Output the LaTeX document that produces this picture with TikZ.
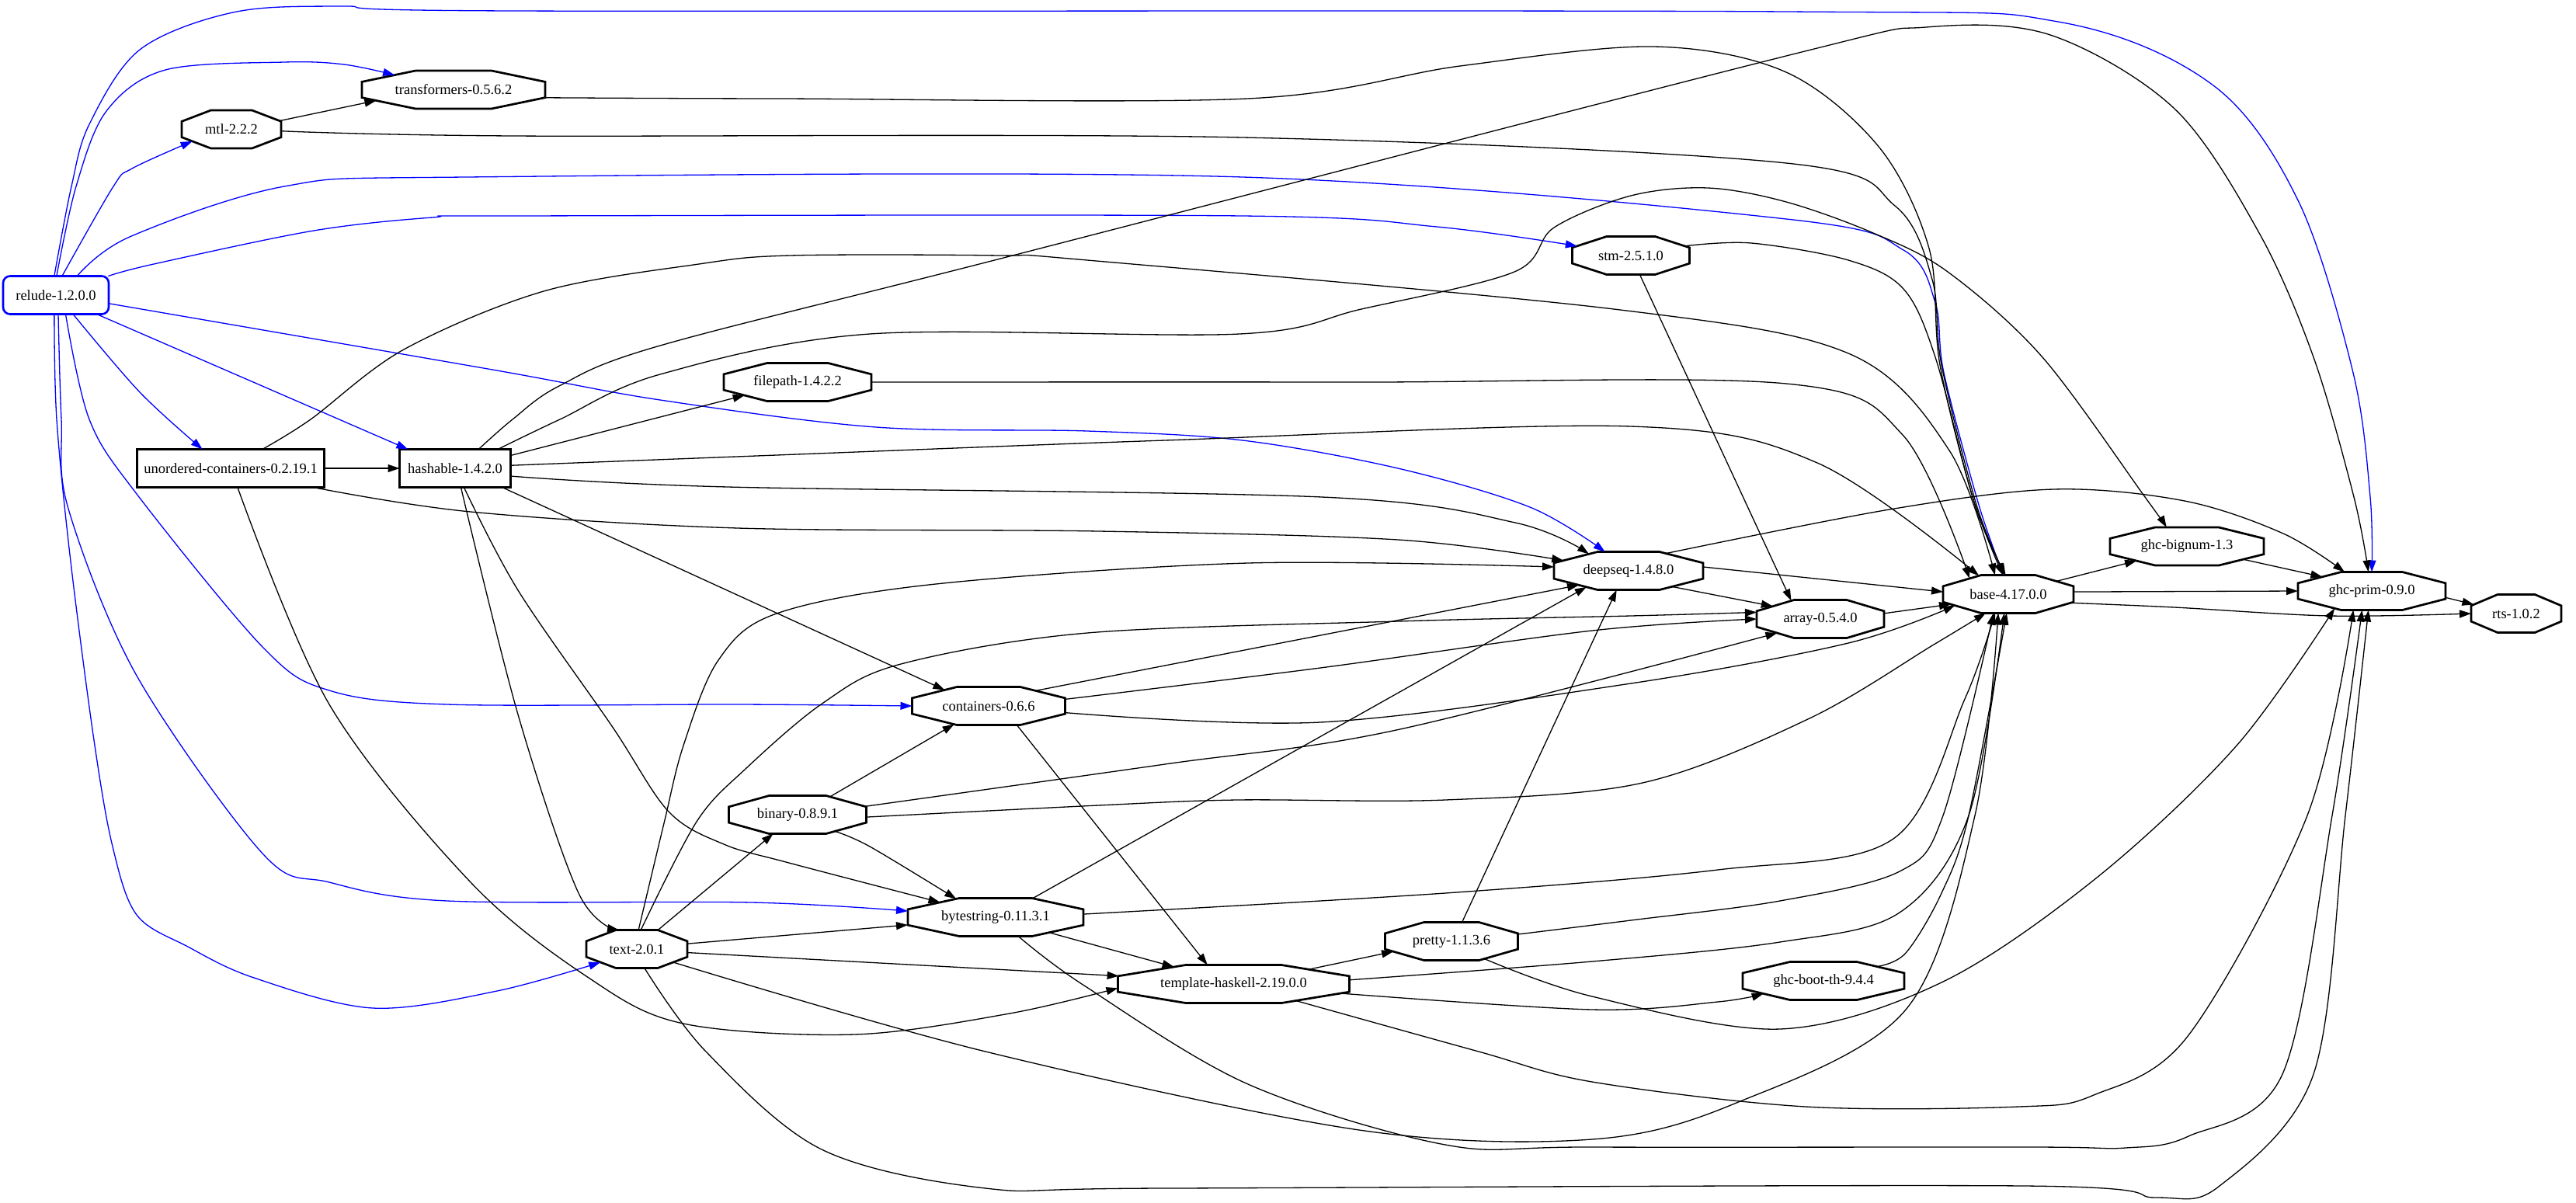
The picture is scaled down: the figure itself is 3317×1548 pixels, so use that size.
\documentclass[tikz,border=0pt]{standalone}
\usepackage{fontspec}
\setmainfont{Liberation Serif}
\usetikzlibrary{arrows.meta}
\makeatletter
\pgfdeclareshape{octbox}{%
  \inheritsavedanchors[from=rectangle]%
  \inheritanchor[from=rectangle]{center}%
  \inheritanchor[from=rectangle]{north}%
  \inheritanchor[from=rectangle]{south}%
  \inheritanchor[from=rectangle]{east}%
  \inheritanchor[from=rectangle]{west}%
  \inheritanchor[from=rectangle]{mid}%
  \inheritanchor[from=rectangle]{base}%
  \inheritanchor[from=rectangle]{text}%
  \backgroundpath{%
    \pgf@process{\southwest}%
    \edef\oct@xa{\the\pgf@x}\edef\oct@ya{\the\pgf@y}%
    \pgf@process{\northeast}%
    \edef\oct@xb{\the\pgf@x}\edef\oct@yb{\the\pgf@y}%
    \pgf@xc=\oct@xb\relax\advance\pgf@xc by-\oct@xa\relax
    \pgf@xc=0.29289\pgf@xc
    \pgf@yc=\oct@yb\relax\advance\pgf@yc by-\oct@ya\relax
    \pgf@yc=0.29289\pgf@yc
    \edef\oct@cx{\the\pgf@xc}\edef\oct@cy{\the\pgf@yc}%
    \pgfpathmoveto{\pgfqpoint{\oct@xa}{\dimexpr\oct@ya+\oct@cy\relax}}%
    \pgfpathlineto{\pgfqpoint{\dimexpr\oct@xa+\oct@cx\relax}{\oct@ya}}%
    \pgfpathlineto{\pgfqpoint{\dimexpr\oct@xb-\oct@cx\relax}{\oct@ya}}%
    \pgfpathlineto{\pgfqpoint{\oct@xb}{\dimexpr\oct@ya+\oct@cy\relax}}%
    \pgfpathlineto{\pgfqpoint{\oct@xb}{\dimexpr\oct@yb-\oct@cy\relax}}%
    \pgfpathlineto{\pgfqpoint{\dimexpr\oct@xb-\oct@cx\relax}{\oct@yb}}%
    \pgfpathlineto{\pgfqpoint{\dimexpr\oct@xa+\oct@cx\relax}{\oct@yb}}%
    \pgfpathlineto{\pgfqpoint{\oct@xa}{\dimexpr\oct@yb-\oct@cy\relax}}%
    \pgfpathclose
  }%
  \anchorborder{%
    \edef\oct@dx{\the\pgf@x}\edef\oct@dy{\the\pgf@y}%
    \pgf@process{\southwest}%
    \edef\oct@xa{\the\pgf@x}\edef\oct@ya{\the\pgf@y}%
    \pgf@process{\northeast}%
    \edef\oct@xb{\the\pgf@x}\edef\oct@yb{\the\pgf@y}%
    \pgfmathsetmacro\oct@a{((\oct@xb)-(\oct@xa))/2}%
    \pgfmathsetmacro\oct@b{((\oct@yb)-(\oct@ya))/2}%
    \pgfmathsetmacro\oct@mx{((\oct@xb)+(\oct@xa))/2}%
    \pgfmathsetmacro\oct@my{((\oct@yb)+(\oct@ya))/2}%
    \pgfmathsetmacro\oct@u{abs(\oct@dx)*100/\oct@a}%
    \pgfmathsetmacro\oct@v{abs(\oct@dy)*100/\oct@b}%
    \pgfmathsetmacro\oct@t{100/max(\oct@u,\oct@v,(\oct@u+\oct@v)/1.41421)}%
    \pgfmathsetlength\pgf@x{\oct@mx+\oct@t*(\oct@dx)}%
    \pgfmathsetlength\pgf@y{\oct@my+\oct@t*(\oct@dy)}%
  }%
}
\makeatother
\tikzset{
  oct/.style={shape=octbox, draw=black, line width=2.7pt, minimum height=49pt, inner sep=0pt, outer sep=0pt},
  rbox/.style={shape=rectangle, draw=black, line width=2.7pt, minimum height=49pt, inner sep=0pt, outer sep=0pt},
  edg/.style={draw=black, line width=1.3pt, -{Triangle[length=15pt,width=10pt]}},
  bedg/.style={draw=blue, line width=1.3pt, -{Triangle[length=15pt,width=10pt]}},
  sm/.style={smooth, tension=0.55}
}
\begin{document}
\begin{tikzpicture}[x=1pt, y=-1pt, font=\fontsize{18.5pt}{22pt}\selectfont]
\useasboundingbox (0,0) rectangle (3317,1548);
\fill[white] (0,0) rectangle (3317,1548);
% nodes
\node[shape=rectangle, draw=blue, line width=2.6pt, rounded corners=9pt, minimum width=136pt, minimum height=49pt, inner sep=0pt, outer sep=0pt] (Relude) at (72,380) {relude-1.2.0.0};
\node[oct, minimum width=236pt] (Trans) at (584,115.5) {transformers-0.5.6.2};
\node[oct, minimum width=128pt] (Mtl) at (298,166.5) {mtl-2.2.2};
\node[oct, minimum width=151pt] (Stm) at (2100,329) {stm-2.5.1.0};
\node[oct, minimum width=190pt] (Filepath) at (1027,492) {filepath-1.4.2.2};
\node[rbox, minimum width=241pt] (UC) at (297,603) {unordered-containers-0.2.19.1};
\node[rbox, minimum width=143pt] (Hashable) at (586,603) {hashable-1.4.2.0};
\node[oct, minimum width=192pt] (Deepseq) at (2097,735) {deepseq-1.4.8.0};
\node[oct, minimum width=164pt] (Array) at (2344,797) {array-0.5.4.0};
\node[oct, minimum width=168pt] (Base) at (2586,765) {base-4.17.0.0};
\node[oct, minimum width=198pt] (Bignum) at (2816,703.5) {ghc-bignum-1.3};
\node[oct, minimum width=190pt] (Prim) at (3054,761) {ghc-prim-0.9.0};
\node[oct, minimum width=116pt] (Rts) at (3240,790) {rts-1.0.2};
\node[oct, minimum width=197pt] (Containers) at (1273,909) {containers-0.6.6};
\node[oct, minimum width=177pt] (Binary) at (1027,1049) {binary-0.8.9.1};
\node[oct, minimum width=226pt] (Bytestring) at (1282,1181) {bytestring-0.11.3.1};
\node[oct, minimum width=130pt] (Text) at (820,1222) {text-2.0.1};
\node[oct, minimum width=171pt] (Pretty) at (1869,1212) {pretty-1.1.3.6};
\node[oct, minimum width=298pt] (TH) at (1588.5,1267) {template-haskell-2.19.0.0};
\node[oct, minimum width=208pt] (BootTH) at (2348,1263) {ghc-boot-th-9.4.4};
% blue edges from relude
\draw[bedg] plot[sm] coordinates {(Relude.95) (92,240) (115,160) (180,64) (300,16) (440,8) (660,14) (2300,15) (2650,28) (2850,110) (2960,260) (3030,480) (3052,640) (Prim.90)};
\draw[bedg] plot[sm] coordinates {(Relude.88) (98,240) (137,143) (213,90) (366,80) (443,83) (Trans.166)};
\draw[bedg] plot[sm] coordinates {(Relude.72) (146,240) (170,217) (Mtl.197)};
\draw[bedg] plot[sm] coordinates {(Relude.42) (167,305) (366,240) (600,228) (1600,228) (2300,282) (2451,322) (2492,390) (2503,480) (2548,650) (Base.104)};
\draw[bedg] plot[sm] coordinates {(Relude.20) (198,340) (404,297) (557,280) (660,278) (1600,278) (1850,292) (Stm.170)};
\draw[bedg] plot[sm] coordinates {(Relude.-9) (634,476) (850,515) (1128,550) (1400,555) (1600,567) (1800,603) (1970,653) (Deepseq.141)};
\draw[bedg] (Relude.-25) -- (Hashable.158);
\draw[bedg] plot[sm] coordinates {(Relude.-48) (180,505) (UC.146)};
\draw[bedg] plot[sm] coordinates {(Relude.-63) (115,540) (176,636) (339,834) (424,889) (576,907) (950,907) (Containers.180)};
\draw[bedg] plot[sm] coordinates {(Relude.-83) (79,540) (88,655) (176,870) (339,1100) (424,1136) (576,1160) (968,1162) (Bytestring.176)};
\draw[bedg] plot[sm] coordinates {(Relude.-95) (73,540) (91,723) (121,953) (145,1090) (176,1178) (242,1219) (327,1259) (480,1298) (640,1276) (Text.200)};
% black edges
\draw[edg] (Mtl.10) -- (Trans.188);
\draw[edg] plot[sm] coordinates {(Mtl.-2) (660,175) (1600,177) (2300,210) (2440,265) (2488,360) (2500,470) (2545,650) (Base.100)};
\draw[edg] plot[sm] coordinates {(Trans.-5) (1000,127) (1606,127) (1880,85) (2129,60) (2300,93) (2420,190) (2484,320) (2498,470) (2543,650) (Base.98)};
\draw[edg] (Stm.-65) -- (Array.148);
\draw[edg] plot[sm] coordinates {(Stm.10) (2255,313) (2380,335) (2451,372) (2492,460) (2540,640) (Base.106)};
\draw[edg] plot[sm] coordinates {(Filepath.0) (1750,492) (2300,494) (2450,560) (Base.158)};
\draw[edg] (Hashable.13) -- (Filepath.194);
\draw[edg] plot[sm] coordinates {(Hashable.3) (1000,586) (1500,567) (2100,549) (2340,596) (Base.148)};
\draw[edg] plot[sm] coordinates {(Hashable.-8) (937,627) (1702,640) (1951,673) (Deepseq.157)};
\draw[edg] (Hashable.-22) -- (Containers.160);
\draw[edg] plot[sm] coordinates {(Hashable.-65) (667,760) (788,935) (861,1045) (932,1087) (1012,1110) (Bytestring.165)};
\draw[edg] plot[sm] coordinates {(Hashable.-73) (667,920) (745,1150) (Text.133)};
\draw[edg] plot[sm] coordinates {(Hashable.24) (721,540) (850,482) (1120,430) (1596,430) (1753,398) (1950,350) (2001,293) (2100,252) (2199,242) (2300,260) (2412,300) (2508,350) (2630,460) (2762,640) (Bignum.137)};
\draw[edg] plot[sm] coordinates {(Hashable.39) (660,540) (720,497) (850,445) (1300,330) (2300,72) (2480,35) (2640,45) (2800,140) (2909,300) (2979,460) (3031,640) (Prim.100)};
\draw[edg] (UC.0) -- (Hashable.180);
\draw[edg] plot[sm] coordinates {(UC.-13) (606,659) (950,680) (1415,684) (1800,695) (Deepseq.171)};
\draw[edg] plot[sm] coordinates {(UC.-70) (424,907) (606,1136) (758,1259) (880,1318) (1100,1332) (1300,1305) (TH.182)};
\draw[edg] plot[sm] coordinates {(UC.31) (400,540) (520,450) (700,375) (900,340) (1017,329) (1287,329) (1400,335) (2078,398) (2380,455) (2510,580) (Base.125)};
\draw[edg] (Deepseq.-20) -- (Array.165);
\draw[edg] (Deepseq.3) -- (Base.178);
\draw[edg] plot[sm] coordinates {(Deepseq.25) (2433,656) (2644,630) (2813,645) (2940,687) (Prim.145)};
\draw[edg] (Array.5) -- (Base.190);
\draw[edg] (Containers.18) -- (Deepseq.196);
\draw[edg] plot[sm] coordinates {(Containers.5) (1700,860) (2050,812) (Array.180)};
\draw[edg] plot[sm] coordinates {(Containers.-5) (1700,930) (2100,880) (2380,828) (Base.-168)};
\draw[edg] (Containers.-34) -- (TH.144);
\draw[edg] (Binary.29) -- (Containers.208);
\draw[edg] plot[sm] coordinates {(Binary.7) (1500,984) (1798,940) (Array.198)};
\draw[edg] plot[sm] coordinates {(Binary.-2) (1414,1037) (1593,1030) (1861,1030) (2115,1008) (2330,925) (2490,830) (Base.-140)};
\draw[edg] plot[sm] coordinates {(Binary.-24) (1120,1090) (Bytestring.155)};
\draw[edg] (Bytestring.27) -- (Deepseq.201);
\draw[edg] plot[sm] coordinates {(Bytestring.2) (1861,1150) (2212,1120) (2438,1080) (2530,900) (Base.-125)};
\draw[edg] (Bytestring.-16) -- (TH.164);
\draw[edg] plot[sm] coordinates {(Bytestring.-40) (1396,1269) (1607,1396) (1861,1474) (2050,1477) (2616,1477) (2737,1478) (2818,1463) (2939,1383) (3003,1050) (Prim.-117)};
\draw[edg] (Text.42) -- (Binary.218);
\draw[edg] (Text.6) -- (Bytestring.185);
\draw[edg] (Text.-4) -- (TH.176);
\draw[edg] plot[sm] coordinates {(Text.85) (855,1060) (880,960) (925,850) (1000,790) (1205,752) (1607,725) (Deepseq.177)};
\draw[edg] plot[sm] coordinates {(Text.78) (897,1058) (960,990) (1060,905) (1160,855) (1400,815) (1800,800) (2100,793) (Array.174)};
\draw[edg] plot[sm] coordinates {(Text.-20) (1269,1354) (1750,1455) (2050,1467) (2236,1420) (2454,1300) (2543,1050) (Base.-118)};
\draw[edg] plot[sm] coordinates {(Text.-68) (909,1354) (1058,1480) (1269,1530) (1500,1530) (2607,1527) (2777,1542) (2858,1527) (2979,1383) (3020,1050) (Prim.-100)};
\draw[edg] plot[sm] coordinates {(TH.2) (2050,1238) (2292,1213) (2446,1175) (2535,1050) (Base.-102)};
\draw[edg] plot[sm] coordinates {(TH.-5) (2050,1300) (2212,1290) (BootTH.192)};
\draw[edg] (TH.11) -- (Pretty.190);
\draw[edg] plot[sm] coordinates {(TH.-15) (1904,1354) (2050,1393) (2325,1425) (2600,1425) (2696,1410) (2818,1333) (2971,1050) (Prim.-134)};
\draw[edg] (Pretty.61) -- (Deepseq.238);
\draw[edg] plot[sm] coordinates {(Pretty.6) (2100,1185) (2292,1160) (2446,1122) (2502,1050) (Base.-128)};
\draw[edg] plot[sm] coordinates {(Pretty.-28) (2050,1283) (2292,1325) (2500,1265) (2700,1130) (2880,960) (Prim.-155)};
\draw[edg] plot[sm] coordinates {(BootTH.15) (2454,1227) (2500,1150) (2535,1050) (Base.-95)};
\draw[edg] (Base.15) -- (Bignum.196);
\draw[edg] (Base.2) -- (Prim.180);
\draw[edg] plot[sm] coordinates {(Base.-8) (2800,782) (3000,793) (Rts.180)};
\draw[edg] (Bignum.-13) -- (Prim.164);
\draw[edg] (Prim.-5) -- (Rts.168);
\end{tikzpicture}
\end{document}
